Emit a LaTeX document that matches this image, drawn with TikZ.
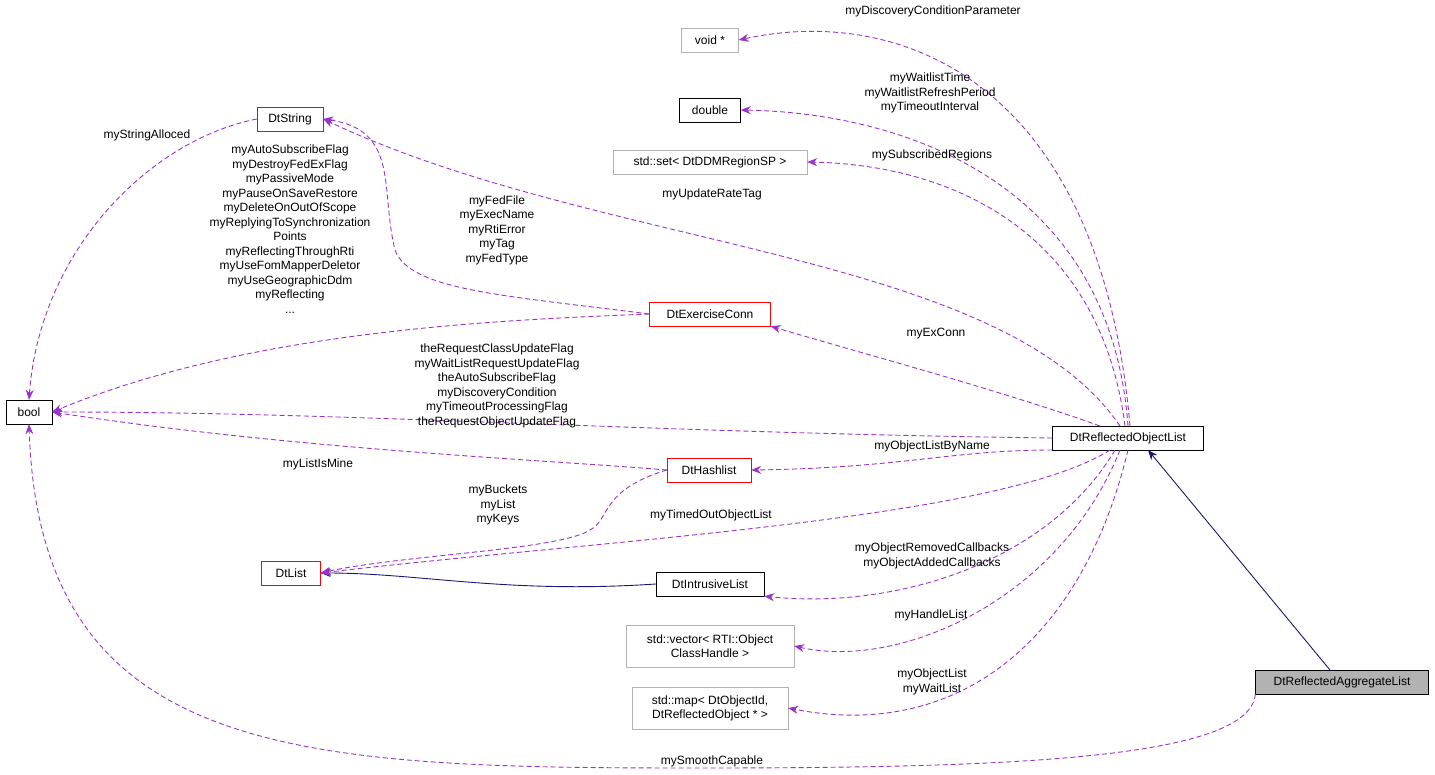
\documentclass[tikz,border=0pt]{standalone}
\usepackage{fontspec}
\setmainfont{Liberation Sans}
\usetikzlibrary{arrows.meta,positioning}
\definecolor{edgeviolet}{HTML}{9A32CD}
\definecolor{edgenavy}{HTML}{191970}
\tikzset{
  cls/.style={draw=black,fill=white,inner sep=3pt,minimum height=24,font=\fontsize{12}{14}\selectfont},
  ext/.style={cls,draw=black!30},
  red/.style={cls,draw=red},
  lbl/.style={align=center,inner sep=0pt,font=\fontsize{12}{14.5}\selectfont},
  dep/.style={draw=edgeviolet,line width=0.9pt,dash pattern=on 5pt off 3pt,-{Stealth[length=10pt,width=8pt]}},
  inh/.style={draw=edgenavy,line width=0.9pt,-{Stealth[length=10pt,width=8pt]}}
}
\begin{document}
\begin{tikzpicture}[x=1pt,y=-1pt]
  \useasboundingbox (0,0) rectangle (1435,775);
  % classes
  \node [ext,minimum width=57] (void) at (710,40) {void *};
  \node [cls,minimum width=61] (dbl) at (710,110) {double};
  \node [ext,minimum width=194] (set) at (710,162) {std::set\textless{} DtDDMRegionSP \textgreater};
  \node [red,minimum width=66] (str) at (290,119) {DtString};
  \node [red,minimum width=121] (conn) at (710,314) {DtExerciseConn};
  \node [cls,minimum width=46] (bool) at (29,412) {bool};
  \node [cls,minimum width=151] (rol) at (1128,438) {DtReflectedObjectList};
  \node [red,minimum width=84] (hash) at (709,470) {DtHashlist};
  \node [red,minimum width=59] (list) at (291,573) {DtList};
  \node [cls,minimum width=108] (ilist) at (710,584) {DtIntrusiveList};
  \node [ext,minimum width=168,minimum height=42,align=center] (vec) at (710,646) {std::vector\textless{} RTI::Object\\ClassHandle \textgreater};
  \node [ext,minimum width=156,minimum height=42,align=center] (map) at (710,708) {std::map\textless{} DtObjectId,\\ DtReflectedObject * \textgreater};
  \node [cls,fill=black!30,minimum width=173] (agg) at (1342,682) {DtReflectedAggregateList};
%
  \draw [inh] (1330,670) -- (1148,450);
  \draw [inh] (ilist.west) .. controls +(-150,10) and +(100,0) .. (list.east);
%
  \draw [dep] (1130,426) .. controls (1100,80) and (900,5) .. (void.east);
  \draw [dep] (1128,426) .. controls (1110,180) and (900,113) .. (dbl.east);
  \draw [dep] (1125,426) .. controls (1100,230) and (950,165) .. (set.east);
  \draw [dep] (1120,426) .. controls (1000,250) and (600,250) .. (str.east);
  \draw [dep] (1100,426) .. controls (1000,390) and (850,350) .. (conn.south east);
  \draw [dep] (rol.west) .. controls +(-400,-5) and +(300,0) .. (bool.east);
  \draw [dep] (rol.west) ++(0,12) .. controls +(-100,0) and +(150,-2) .. (hash.east);
  \draw [dep] (1110,450) .. controls (1000,520) and (600,540) .. (list.east);
  \draw [dep] (1115,450) .. controls (1050,560) and (900,610) .. (ilist.south east);
  \draw [dep] (1120,450) .. controls (1060,600) and (900,670) .. (vec.east);
  \draw [dep] (1128,450) .. controls (1080,650) and (950,740) .. (map.east);
  \draw [dep] (str.west) .. controls (150,140) and (40,250) .. (bool.north);
  \draw [dep] (conn.west) .. controls (500,295) and (410,290) .. (395,250) .. controls (380,190) and (400,130) .. (str.east);
  \draw [dep] (conn.west) .. controls (500,320) and (250,330) .. (bool.east);
  \draw [dep] (hash.west) .. controls (550,460) and (300,450) .. (bool.east);
  \draw [dep] (hash.west) .. controls (600,490) and (610,520) .. (590,530) .. controls (560,550) and (400,555) .. (list.east);
  \draw [dep] (agg.south west) .. controls (1250,760) and (1000,768) .. (700,768) .. controls (300,768) and (40,760) .. (bool.south);
%
  \node [lbl] (l1) at (933,11) {myDiscoveryConditionParameter};
  \node [lbl] (l2) at (930,93) {myWaitlistTime\\myWaitlistRefreshPeriod\\myTimeoutInterval};
  \node [lbl] (l3) at (932,155) {mySubscribedRegions};
  \node [lbl] (l4) at (712,194) {myUpdateRateTag};
  \node [lbl] (l5) at (936,334) {myExConn};
  \node [lbl] (l6) at (497,386) {theRequestClassUpdateFlag\\myWaitListRequestUpdateFlag\\theAutoSubscribeFlag\\myDiscoveryCondition\\myTimeoutProcessingFlag\\theRequestObjectUpdateFlag};
  \node [lbl] (l7) at (932,446) {myObjectListByName};
  \node [lbl] (l8) at (711,515) {myTimedOutObjectList};
  \node [lbl] (l9) at (932,556) {myObjectRemovedCallbacks\\myObjectAddedCallbacks};
  \node [lbl] (l10) at (931,615) {myHandleList};
  \node [lbl] (l11) at (932,682) {myObjectList\\myWaitList};
  \node [lbl] (l12) at (147,135) {myStringAlloced};
  \node [lbl] (l13) at (497,230) {myFedFile\\myExecName\\myRtiError\\myTag\\myFedType};
  \node [lbl] (l14) at (290,229) {myAutoSubscribeFlag\\myDestroyFedExFlag\\myPassiveMode\\myPauseOnSaveRestore\\myDeleteOnOutOfScope\\myReplyingToSynchronization\\Points\\myReflectingThroughRti\\myUseFomMapperDeletor\\myUseGeographicDdm\\myReflecting\\...};
  \node [lbl] (l15) at (318,464) {myListIsMine};
  \node [lbl] (l16) at (498,505) {myBuckets\\myList\\myKeys};
  \node [lbl] (l17) at (712,761) {mySmoothCapable};
\end{tikzpicture}
\end{document}
